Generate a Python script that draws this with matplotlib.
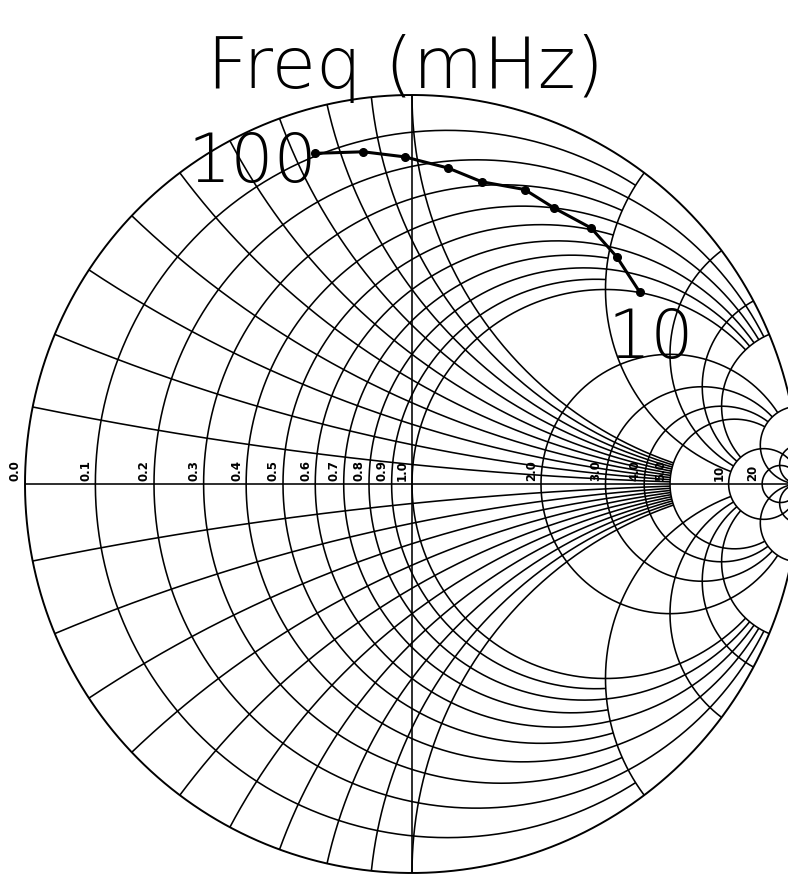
import numpy as np
import matplotlib.pyplot as plt

freq = [100, 90, 80, 70, 60, 50, 40, 30, 20, 10]
gamma_re = [-0.251, -0.126, -0.019, 0.094, 0.180, 0.291, 0.368, 0.463, 0.529, 0.588]
gamma_im = [0.850, 0.854, 0.841, 0.812, 0.777, 0.757, 0.709, 0.658, 0.584, 0.494]

# grid: resistance circles and the reactance where they stop
r_fine = [0.1, 0.3, 0.5, 0.7, 0.9]       # up to |x| = 2
r_mid = [0.2, 0.4, 0.6, 0.8, 1.0]        # up to |x| = 5
r_big = [2.0, 3.0, 4.0, 5.0]             # up to |x| = 10
r_full = [10.0, 20.0]

# reactance arcs and the resistance where they stop
x_fine = [0.1, 0.2, 0.3, 0.4, 0.5, 0.6, 0.7, 0.8, 0.9, 1.0]   # up to r = 5
x_mid = [2.0, 3.0, 4.0, 5.0]                                   # up to r = 10
x_full = [10.0, 20.0]

axis_vals = [0.0, 0.1, 0.2, 0.3, 0.4, 0.5, 0.6, 0.7, 0.8, 0.9, 1.0,
             2.0, 3.0, 4.0, 5.0, 10.0, 20.0]
axis_text = ["0.0", "0.1", "0.2", "0.3", "0.4", "0.5", "0.6", "0.7", "0.8",
             "0.9", "1.0", "2.0", "3.0", "4.0", "5.0", "10", "20"]


def r_arc(r, xmax):
    c, rho = r / (1 + r), 1 / (1 + r)
    if np.isinf(xmax):
        th = np.linspace(0, 2 * np.pi, 600)
    else:
        a = 2 * np.arctan(xmax / (1 + r))
        th = np.linspace(np.pi - a, np.pi + a, 600)
    return c + rho * np.cos(th), rho * np.sin(th)


def x_arc(x, rmax):
    r = np.concatenate([np.linspace(0, 1, 200), np.geomspace(1.01, 1e4, 400)])
    if not np.isinf(rmax):
        r = r[r <= rmax]
        r = np.append(r, rmax)
    z = r + 1j * x
    g = (z - 1) / (z + 1)
    if np.isinf(rmax):
        g = np.append(g, 1.0)
    return g.real, g.imag


fig = plt.figure(figsize=(7.88, 8.74), dpi=100)
ax = fig.add_axes([0, 0, 1, 1])
ax.set_xlim(-1.0646, 0.9716)
ax.set_ylim(-1.0026, 1.2442)
ax.axis("off")

kw = dict(color="black", lw=1.15, solid_capstyle="butt")

# outer circle, real axis, centre line
t = np.linspace(0, 2 * np.pi, 800)
ax.plot(np.cos(t), np.sin(t), color="black", lw=1.4)
ax.plot([-1, 1], [0, 0], **kw)
ax.plot([0, 0], [-1, 1], **kw)

for r in r_fine:
    ax.plot(*r_arc(r, 2.0), **kw)
for r in r_mid:
    ax.plot(*r_arc(r, 5.0), **kw)
for r in r_big:
    ax.plot(*r_arc(r, 10.0), **kw)
for r in r_full:
    ax.plot(*r_arc(r, np.inf), **kw)

for xv in x_fine:
    for s in (1, -1):
        ax.plot(*x_arc(s * xv, 5.0), **kw)
for xv in x_mid:
    for s in (1, -1):
        ax.plot(*x_arc(s * xv, 10.0), **kw)
for xv in x_full:
    for s in (1, -1):
        ax.plot(*x_arc(s * xv, np.inf), **kw)

# labels along the real axis
for v, s in zip(axis_vals, axis_text):
    gx = (v - 1) / (v + 1)
    ax.annotate(s, (gx, 0), xytext=(-3, 3), textcoords="offset pixels",
                rotation=90, ha="right", va="bottom", fontsize=8.5,
                fontweight="bold")

# measured curve
ax.plot(gamma_re, gamma_im, color="black", lw=2.2, marker="o", ms=5.5)
ax.annotate(str(freq[0]), (gamma_re[0], gamma_im[0]), xytext=(2, -29),
            textcoords="offset pixels", ha="right", va="baseline",
            fontsize=49, fontweight="light")
ax.annotate(str(freq[-1]), (gamma_re[-1], gamma_im[-1]), xytext=(-32, -66),
            textcoords="offset pixels", ha="left", va="baseline",
            fontsize=49, fontweight="light")

ax.text(-0.018, 1.018, "Freq (mHz)", ha="center", va="baseline",
        fontsize=52, fontweight="light")

fig.savefig("out.png", dpi=100)
